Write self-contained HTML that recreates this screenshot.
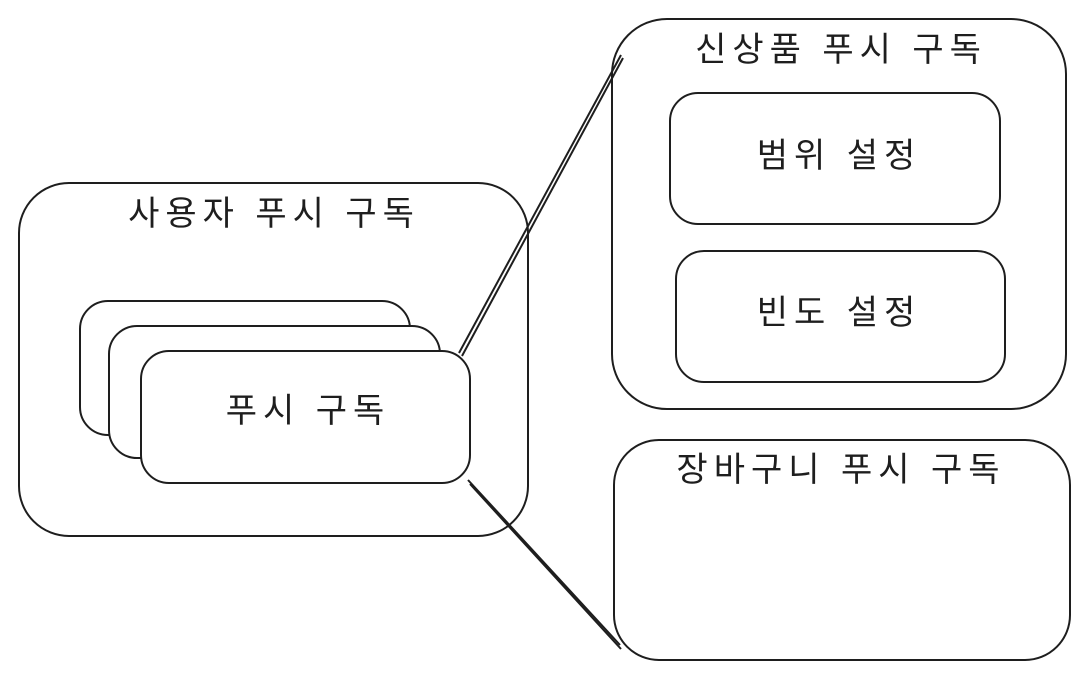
<!DOCTYPE html>
<html><head><meta charset="utf-8"><style>
html,body{margin:0;padding:0;background:#fff;}
svg{display:block}
text{font-family:"Liberation Sans","Noto Sans CJK KR",sans-serif;font-size:34px;letter-spacing:6px;fill:#1e1e1e;text-anchor:middle;dominant-baseline:middle;}
rect,line{fill:none;stroke:#1e1e1e;stroke-width:2;}
.w{fill:#fff}
</style></head><body>
<svg width="1087" height="681" viewBox="0 0 1087 681" xmlns="http://www.w3.org/2000/svg">
<rect x="19" y="183" width="509" height="353" rx="50"/>
<text x="274" y="216">사용자 푸시 구독</text>
<rect class="w" x="80" y="301" width="330" height="134" rx="28"/>
<rect class="w" x="109" y="326" width="331" height="132" rx="28"/>
<rect class="w" x="141" y="351" width="329" height="132" rx="28"/>
<text x="308" y="413">푸시 구독</text>
<rect x="612" y="19" width="454" height="390" rx="55"/>
<text x="841" y="52">신상품 푸시 구독</text>
<rect x="670" y="93" width="330" height="131" rx="28"/>
<text x="839" y="158">범위 설정</text>
<rect x="676" y="251" width="329" height="131" rx="28"/>
<text x="839" y="315">빈도 설정</text>
<rect x="614" y="440" width="456" height="220" rx="45"/>
<text x="841" y="472">장바구니 푸시 구독</text>
<line x1="459" y1="353" x2="621" y2="55"/>
<line x1="462" y1="356" x2="623" y2="58"/>
<line x1="468" y1="480" x2="620" y2="645"/>
<line x1="470" y1="484" x2="621" y2="649"/>
</svg>
</body></html>
